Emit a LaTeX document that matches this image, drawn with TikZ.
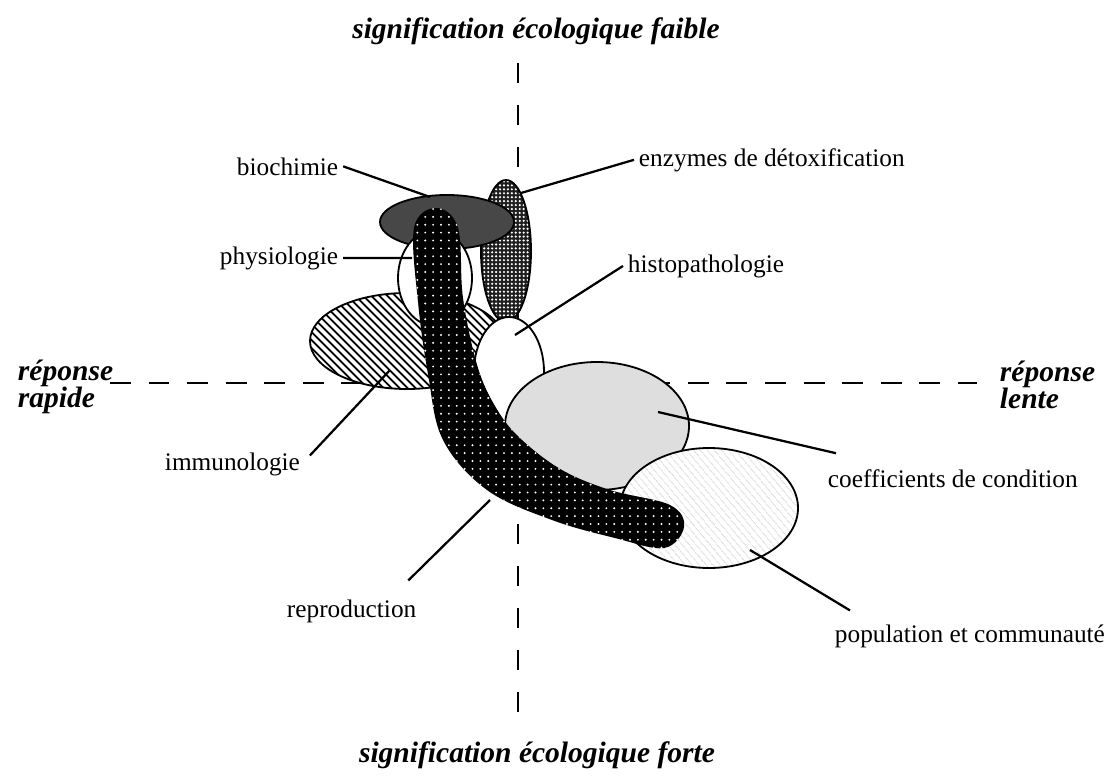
\documentclass[tikz,border=0pt]{standalone}
\usepackage{fontspec}
\setmainfont{Liberation Serif}
\usetikzlibrary{patterns, patterns.meta}

\begin{document}
\begin{tikzpicture}[
  x=0.025cm, y=-0.025cm,
  font=\fontsize{18}{20}\selectfont,
  lbl/.style={anchor=base west},
  axislbl/.style={font=\fontsize{21}{19}\selectfont\bfseries\itshape},
  haxis/.style={line width=1.4pt, dash pattern=on 14.9pt off 12.5pt},
  vaxis/.style={line width=1.4pt, dash pattern=on 14.2pt off 15.6pt},
  zone/.style={draw=black, line width=1.3pt},
  leader/.style={line width=1.6pt},
  enzfill/.style={preaction={fill=black!88},
                  preaction={pattern={Dots[distance=2.8pt,radius=0.85pt]}, pattern color=white}},
  biofill/.style={preaction={fill=black!72}},
  immunofill/.style={preaction={fill=white},
                  preaction={pattern={Lines[angle=-45,distance=4pt,line width=1.3pt]}, pattern color=black}},
  coeffill/.style={preaction={fill=black!13}},
  popfill/.style={preaction={fill=white},
                  preaction={pattern={Lines[angle=-50,distance=4pt,line width=0.4pt]}, pattern color=black!40}},
  wormfill/.style={fill=black,
                  postaction={pattern={Dots[distance=5.6pt,radius=0.75pt]}, pattern color=white}},
]
\useasboundingbox (0,0) rectangle (1104,776);

% axes
\coordinate (axN) at (518,63);
\coordinate (axS) at (518,722);
\coordinate (axW) at (110,383);
\coordinate (axE) at (977,383);
\draw[vaxis] (axN) -- (axS);
\draw[haxis] (axW) -- (axE);

% zones
\path[zone, enzfill] (506,251) ellipse [x radius=25, y radius=71];
\path[zone, biofill] (447,222) ellipse [x radius=67, y radius=27];
\path[zone, immunofill] (407,341) ellipse [x radius=97, y radius=48];
\path[zone, fill=white] (435,278) ellipse [x radius=37, y radius=48];
\path[zone, fill=white] (509,372) ellipse [x radius=35, y radius=55];
\path[zone, coeffill] (597,426) ellipse [x radius=92, y radius=64];
\path[zone, popfill] (709,508) ellipse [x radius=89, y radius=60];

% reproduction
\path[wormfill] plot[smooth cycle, tension=0.6] coordinates {
  (436,208) (414,228) (418,302) (428,374) (443,440) (487,490) (552,520)
  (615,538) (664,548) (684,527) (670,505) (610,490) (562,470) (522,440)
  (498,411) (478,368) (463,298) (458,228)};

% labels
\node[axislbl, anchor=base] (faible) at (536,38) {signification écologique faible};
\node[axislbl, anchor=base] (forte) at (537,762) {signification écologique forte};
\node[axislbl, lbl] (repG) at (13,380) {réponse};
\node[axislbl, lbl] (rapide) at (13,407) {rapide};
\node[axislbl, lbl] (repD) at (995,381) {réponse};
\node[axislbl, lbl] (lente) at (995,408) {lente};

\node[lbl] (lbio) at (232,175) {biochimie};
\node[lbl] (lphys) at (215,264) {physiologie};
\node[lbl] (lenz) at (634,166) {enzymes de détoxification};
\node[lbl] (lhisto) at (623,272) {histopathologie};
\node[lbl] (limmuno) at (160,470) {immunologie};
\node[lbl] (lcoef) at (823,487) {coefficients de condition};
\node[lbl] (lrepro) at (282,617) {reproduction};
\node[lbl] (lpop) at (830,642) {population et communauté};

% leaders
\coordinate (bio) at (430,197);
\coordinate (phys) at (412,258);
\coordinate (enz) at (521,193);
\coordinate (histo) at (515,335);
\coordinate (immuno) at (390,370);
\coordinate (coef) at (658,412);
\coordinate (pop) at (750,550);
\coordinate (repro) at (490,500);

\draw[leader] (lbio.east) -- (bio);
\draw[leader] (lphys.east) -- (phys);
\draw[leader] (lenz.west) -- (enz);
\draw[leader] (lhisto.west) -- (histo);
\draw[leader] ([shift={(5,8)}]limmuno.north east) -- (immuno);
\draw[leader] ([shift={(13,-11)}]lcoef.north west) -- (coef);
\draw[leader] ([shift={(-13,-14)}]lrepro.north east) -- (repro);
\draw[leader] ([shift={(20,-9)}]lpop.north west) -- (pop);

\end{tikzpicture}
\end{document}
